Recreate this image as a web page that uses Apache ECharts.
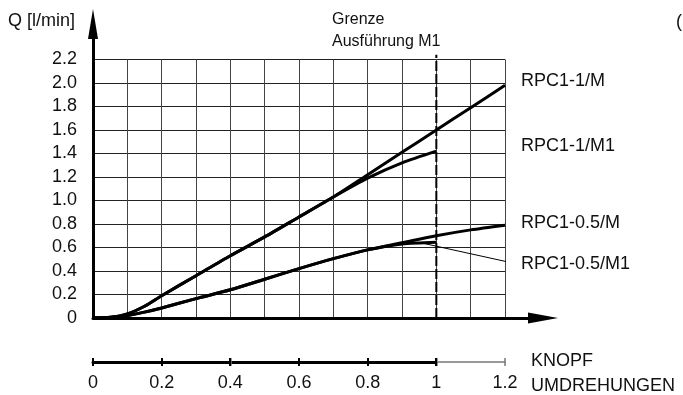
<!DOCTYPE html>
<html>
<head>
<meta charset="utf-8">
<script src="https://cdn.jsdelivr.net/npm/echarts@6/dist/echarts.min.js"></script>
<style>
  html, body { margin: 0; padding: 0; background: #fff; }
  #chart { width: 683px; height: 395px; }
</style>
</head>
<body>
<div id="chart"></div>
<script>
// Kennlinien Q [l/min] ueber Knopf-Umdrehungen
const FONT = '"Liberation Sans", Arial, sans-serif'

const xM = [0, 0.05, 0.1, 0.15, 0.2, 0.3, 0.4, 0.5, 0.6, 0.7, 0.8, 0.9, 1.0, 1.1, 1.2]
const qM = [0, 0.006, 0.035, 0.1, 0.19, 0.36, 0.53, 0.69, 0.86, 1.03, 1.22, 1.41, 1.60, 1.79, 1.98]

const xM1 = [0, 0.05, 0.1, 0.15, 0.2, 0.3, 0.4, 0.5, 0.6, 0.7, 0.8, 0.9, 1.0]
const qM1 = [0, 0.006, 0.035, 0.1, 0.19, 0.36, 0.53, 0.69, 0.86, 1.03, 1.19, 1.32, 1.42]

const xHalfM = [0, 0.05, 0.1, 0.15, 0.2, 0.3, 0.4, 0.5, 0.6, 0.7, 0.8, 0.9, 1.0, 1.1, 1.2]
const qHalfM = [0, 0.005, 0.02, 0.05, 0.085, 0.165, 0.24, 0.33, 0.42, 0.505, 0.58, 0.64, 0.70, 0.75, 0.79]

const xHalfM1 = [0, 0.05, 0.1, 0.15, 0.2, 0.3, 0.4, 0.5, 0.6, 0.7, 0.8, 0.9, 1.0]
const qHalfM1 = [0, 0.005, 0.02, 0.05, 0.085, 0.165, 0.24, 0.33, 0.42, 0.505, 0.58, 0.63, 0.645]

// Grenze Ausfuehrung M1 (x = 1), Hinweislinie zur Beschriftung
const limitLine = [[1.0, 0], [1.0, 2.24]]
const leaderLine = [[0.958, 0.638], [1.235, 0.46]]

function pairs(xs, ys) {
    return xs.map((x, i) => [x, ys[i]])
}

function curve(name, xs, ys) {
    return {
        name: name,
        type: 'line',
        xAxisIndex: 0,
        yAxisIndex: 0,
        data: pairs(xs, ys),
        smooth: 0.25,
        showSymbol: false,
        lineStyle: { color: '#000', width: 3 },
        z: 5
    }
}

function label(text, x, y, size) {
    return {
        type: 'text',
        x: x,
        y: y,
        style: {
            text: text,
            fontSize: size || 18,
            fontFamily: FONT,
            fill: '#111',
            align: 'left',
            verticalAlign: 'middle'
        }
    }
}

const chart = echarts.init(document.getElementById('chart'))

chart.setOption({
    animation: false,
    backgroundColor: '#fff',
    grid: [
        { left: 93, right: 178, top: 59.5, bottom: 77 },   // Diagramm
        { left: 93, right: 140, top: 24, bottom: 77 },     // Achsen mit Pfeil
        { left: 93, right: 178, top: 300, bottom: 33 },    // Skala 0..1.2 (grau)
        { left: 93, right: 247, top: 300, bottom: 33 }     // Skala 0..1 (schwarz)
    ],
    xAxis: [
        {
            gridIndex: 0, type: 'value', min: 0, max: 1.2, interval: 0.1, position: 'bottom',
            axisLine: { show: false }, axisTick: { show: false }, axisLabel: { show: false },
            splitLine: { show: true, lineStyle: { color: '#444', width: 1 } }
        },
        {
            gridIndex: 1, type: 'value', min: 0, max: 1, position: 'bottom',
            axisLine: { show: true, symbol: ['none', 'triangle'], symbolSize: [11, 30], lineStyle: { color: '#000', width: 3 } },
            axisTick: { show: false }, axisLabel: { show: false }, splitLine: { show: false }
        },
        {
            gridIndex: 2, type: 'value', min: 0, max: 1.2, interval: 0.2, position: 'bottom',
            axisLine: { show: true, lineStyle: { color: '#777', width: 1.5 } },
            axisTick: { show: true, length: 4, lineStyle: { color: '#777', width: 1.5 } },
            axisLabel: { show: true, margin: 12, fontSize: 18, fontFamily: FONT, color: '#111' },
            splitLine: { show: false }
        },
        {
            gridIndex: 2, type: 'value', min: 0, max: 1.2, interval: 0.2, position: 'bottom',
            axisLine: { show: false },
            axisTick: { show: true, inside: true, length: 4, lineStyle: { color: '#777', width: 1.5 } },
            axisLabel: { show: false }, splitLine: { show: false }
        },
        {
            gridIndex: 3, type: 'value', min: 0, max: 1, interval: 0.2, position: 'bottom',
            axisLine: { show: true, lineStyle: { color: '#000', width: 3 } },
            axisTick: { show: true, length: 4, lineStyle: { color: '#000', width: 2 } },
            axisLabel: { show: false }, splitLine: { show: false }
        },
        {
            gridIndex: 3, type: 'value', min: 0, max: 1, interval: 0.2, position: 'bottom',
            axisLine: { show: false },
            axisTick: { show: true, inside: true, length: 4, lineStyle: { color: '#000', width: 2 } },
            axisLabel: { show: false }, splitLine: { show: false }
        }
    ],
    yAxis: [
        {
            gridIndex: 0, type: 'value', min: 0, max: 2.2, interval: 0.2,
            axisLine: { show: false }, axisTick: { show: false },
            axisLabel: {
                show: true, margin: 16, fontSize: 18, fontFamily: FONT, color: '#111',
                formatter: v => (v === 0 ? '0' : v.toFixed(1))
            },
            splitLine: { show: true, lineStyle: { color: '#222', width: 1 } }
        },
        {
            gridIndex: 1, type: 'value', min: 0, max: 1,
            axisLine: { show: true, symbol: ['none', 'triangle'], symbolSize: [10, 30], lineStyle: { color: '#000', width: 3 } },
            axisTick: { show: false }, axisLabel: { show: false }, splitLine: { show: false }
        },
        { gridIndex: 2, type: 'value', show: false, min: 0, max: 1 },
        { gridIndex: 3, type: 'value', show: false, min: 0, max: 1 }
    ],
    series: [
        curve('RPC1-1/M', xM, qM),
        curve('RPC1-1/M1', xM1, qM1),
        curve('RPC1-0.5/M', xHalfM, qHalfM),
        curve('RPC1-0.5/M1', xHalfM1, qHalfM1),
        {
            name: 'Grenze',
            type: 'line',
            data: limitLine,
            clip: false,
            showSymbol: false,
            lineStyle: { color: '#000', width: 2, type: [10, 3] },
            z: 4
        },
        {
            name: 'leader',
            type: 'line',
            data: leaderLine,
            clip: false,
            showSymbol: false,
            lineStyle: { color: '#000', width: 1 },
            z: 4
        }
    ],
    graphic: [
        label('Q [l/min]', 8, 21, 18),
        label('Grenze', 332, 20, 16),
        label('Ausführung M1', 332, 42, 16),
        label('RPC1-1/M', 521, 81),
        label('RPC1-1/M1', 521, 146),
        label('RPC1-0.5/M', 521, 223),
        label('RPC1-0.5/M1', 521, 264),
        label('KNOPF', 531, 361, 18),
        label('UMDREHUNGEN', 531, 386, 18),
        label('(', 676, 22, 18)
    ]
})
</script>
</body>
</html>
